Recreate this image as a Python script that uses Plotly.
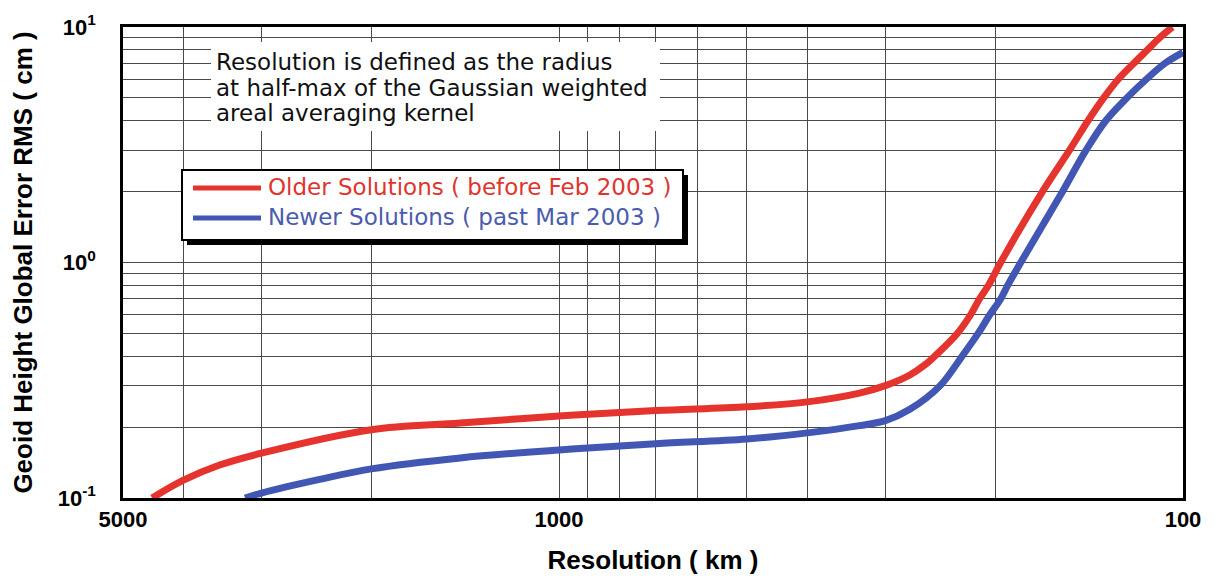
import plotly.graph_objects as go

# ---- data ----
older_res_km = [4490, 4000, 3500, 3000, 2000, 1440, 1000, 700, 500, 400, 330, 300,
                274, 257, 250, 230, 219, 212, 205, 196, 168, 152, 142, 134, 127, 120, 114, 109, 104]
older_rms_cm = [0.100, 0.119, 0.138, 0.155, 0.195, 0.208, 0.223, 0.235, 0.244, 0.256, 0.279, 0.300,
                0.333, 0.374, 0.40, 0.50, 0.60, 0.70, 0.80, 1.0, 2.0, 3.0, 4.0, 5.0, 6.0, 7.0, 8.0, 9.0, 10.0]

newer_res_km = [3187, 3000, 2420, 2000, 1440, 1000, 700, 500, 400, 330, 300, 274,
                245, 226, 213, 204, 196, 191, 182, 156, 143, 133, 123, 114.5, 107, 100]
newer_rms_cm = [0.100, 0.105, 0.120, 0.133, 0.148, 0.160, 0.170, 0.178, 0.189, 0.203, 0.213, 0.238,
                0.30, 0.40, 0.50, 0.60, 0.70, 0.80, 1.0, 2.0, 3.0, 4.0, 5.0, 6.0, 7.0, 7.8]

x_grid_vals = [5000, 4000, 3000, 2000, 1000, 900, 800, 700, 600, 500, 400, 300, 200, 100]
x_grid_text = ["5000", "", "", "", "1000", "", "", "", "", "", "", "", "", "100"]
y_grid_vals = [0.1, 0.2, 0.3, 0.4, 0.5, 0.6, 0.7, 0.8, 0.9,
               1, 2, 3, 4, 5, 6, 7, 8, 9, 10]
y_grid_text = ["10<sup>-1</sup>"] + [""] * 8 + ["10<sup>0</sup>"] + [""] * 8 + ["10<sup>1</sup>"]

series_names = ["Older Solutions ( before Feb 2003 )", "Newer Solutions ( past Mar 2003 )"]
note_lines = ["Resolution is defined as the radius",
              "at half-max of the Gaussian weighted",
              "areal averaging kernel"]

RED = "#e5332e"
BLUE = "#4256b4"
TXT_RED = "#e0352f"
TXT_BLUE = "#4a5bb0"

# ---- layout geometry (pixels, page coords; page body has an 8px margin) ----
OFF = 8
W, H = 1217 - OFF, 580 - OFF
PL, PR, PT, PB = 123, 1183, 27, 498          # plot area in page pixels
L, T = PL - OFF, PT - OFF
R, B = W - (PR - OFF), H - (PB - OFF)
PW, PH = PR - PL, PB - PT


def px(xp):
    return (xp - PL) / PW


def py(yp):
    return (PB - yp) / PH


fig = go.Figure()
fig.add_trace(go.Scatter(x=older_res_km, y=older_rms_cm, mode="lines",
                         line=dict(color=RED, width=7, shape="spline", smoothing=1.0),
                         name=series_names[0], showlegend=False))
fig.add_trace(go.Scatter(x=newer_res_km, y=newer_rms_cm, mode="lines",
                         line=dict(color=BLUE, width=7, shape="spline", smoothing=1.0),
                         name=series_names[1], showlegend=False))

axis_font = dict(family="Liberation Sans, Arial, sans-serif", size=22, color="black", weight="bold")
title_font = dict(family="Liberation Sans, Arial, sans-serif", size=26, color="black", weight="bold")

fig.update_xaxes(type="log", range=[3.69897, 2.0], tickvals=x_grid_vals, ticktext=x_grid_text,
                 showgrid=True, gridcolor="#4a4a4a", gridwidth=1.3,
                 showline=True, mirror=True, linecolor="black", linewidth=2.5,
                 ticks="", tickfont=axis_font, ticklabelstandoff=0,
                 title=dict(text="Resolution ( km )", font=title_font, standoff=20),
                 zeroline=False)
fig.update_yaxes(type="log", range=[-1, 1], tickvals=y_grid_vals, ticktext=y_grid_text,
                 showgrid=True, gridcolor="#4a4a4a", gridwidth=1.3,
                 showline=True, mirror=True, linecolor="black", linewidth=2.5,
                 ticks="", tickfont=axis_font, ticklabelstandoff=20,
                 title=dict(text="Geoid Height Global Error RMS ( cm )", font=title_font, standoff=30),
                 zeroline=False)

shapes = []
# white box behind the note text
shapes.append(dict(type="rect", xref="paper", yref="paper", layer="above",
                   x0=px(211), x1=px(660), y0=py(131), y1=py(42),
                   fillcolor="white", line=dict(width=0)))
# legend shadow and box
shapes.append(dict(type="rect", xref="paper", yref="paper", layer="above",
                   x0=px(187), x1=px(688), y0=py(245), y1=py(175),
                   fillcolor="black", line=dict(width=0)))
shapes.append(dict(type="rect", xref="paper", yref="paper", layer="above",
                   x0=px(182), x1=px(683), y0=py(240), y1=py(170),
                   fillcolor="white", line=dict(color="black", width=2)))
# legend sample lines
shapes.append(dict(type="line", xref="paper", yref="paper", layer="above",
                   x0=px(193), x1=px(261), y0=py(188), y1=py(188),
                   line=dict(color=RED, width=5)))
shapes.append(dict(type="line", xref="paper", yref="paper", layer="above",
                   x0=px(193), x1=px(261), y0=py(218), y1=py(218),
                   line=dict(color=BLUE, width=5)))

text_font = "DejaVu Sans, Liberation Sans, sans-serif"
annotations = []
for line, yc in zip(note_lines, [62, 88, 113]):
    annotations.append(dict(xref="paper", yref="paper", x=px(214), y=py(yc),
                            xanchor="left", yanchor="middle", text=line, showarrow=False,
                            font=dict(family=text_font, size=23, color="#111111")))
annotations.append(dict(xref="paper", yref="paper", x=px(266), y=py(187),
                        xanchor="left", yanchor="middle", text=series_names[0], showarrow=False,
                        font=dict(family=text_font, size=23, color=TXT_RED)))
annotations.append(dict(xref="paper", yref="paper", x=px(266), y=py(217),
                        xanchor="left", yanchor="middle", text=series_names[1], showarrow=False,
                        font=dict(family=text_font, size=23, color=TXT_BLUE)))

fig.update_layout(width=W, height=H, margin=dict(l=L, r=R, t=T, b=B, autoexpand=False),
                  paper_bgcolor="white", plot_bgcolor="white",
                  shapes=shapes, annotations=annotations, showlegend=False)

fig.write_html("out.html")
